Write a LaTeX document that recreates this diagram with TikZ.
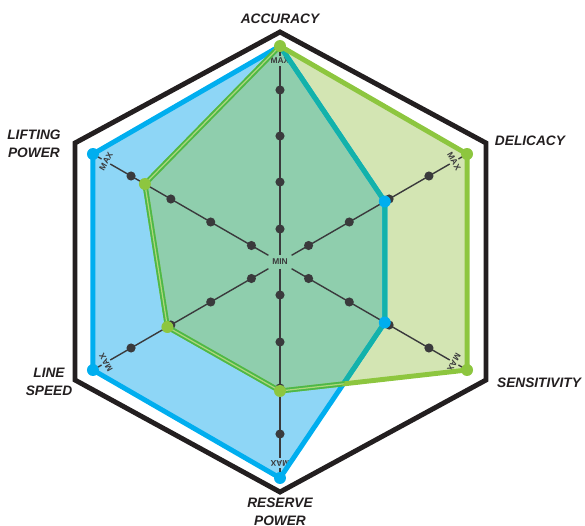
\documentclass[tikz,border=0pt]{standalone}
\usepackage{fontspec}
\setmainfont{Liberation Sans}
\definecolor{hexline}{HTML}{231F20}
\definecolor{bluefill}{HTML}{8ED6F6}
\definecolor{greenfill}{HTML}{D3E5B3}
\definecolor{overlapfill}{HTML}{8FCEAD}
\definecolor{blueline}{HTML}{00AEEF}
\definecolor{greenline}{HTML}{8DC63F}
\definecolor{tealline}{HTML}{13B2AA}
\definecolor{darkgreen}{HTML}{4DB848}
\definecolor{axisgray}{HTML}{3A3A3C}
\tikzset{
axislabel/.style={font=\bfseries\itshape\fontsize{7.8}{10.2}\selectfont, align=center, text=hexline, inner sep=0pt},
endlabel/.style={font=\bfseries\fontsize{4.8}{5}\selectfont, text=axisgray},
axisline/.style={axisgray, line width=0.8pt},
polyline/.style={line width=2.8pt, line join=round},
tickdot/.style={circle, fill=axisgray, inner sep=0pt, minimum size=5.2pt},
vertexdot/.style={circle, inner sep=0pt, minimum size=6.8pt}
}
\begin{document}
\begin{tikzpicture}[x=0.02cm,y=0.02cm]
\useasboundingbox (-280,-263) rectangle (305,262);
\foreach \a/\r [count=\i] in {90/216,30/216,-30/216,-90/129,-150/130,150/156}
{
\coordinate (g\i) at (\a:\r);
}
\foreach \a/\r [count=\i] in {90/216,30/121,-30/121,-90/216,-150/216,150/216}
{
\coordinate (b\i) at (\a:\r);
}
\fill[bluefill] (b1) -- (b2) -- (b3) -- (b4) -- (b5) -- (b6) -- cycle;
\fill[greenfill] (g1) -- (g2) -- (g3) -- (g4) -- (g5) -- (g6) -- cycle;
\begin{scope}
\clip (b1) -- (b2) -- (b3) -- (b4) -- (b5) -- (b6) -- cycle;
\fill[overlapfill] (g1) -- (g2) -- (g3) -- (g4) -- (g5) -- (g6) -- cycle;
\end{scope}
\draw[hexline, line width=2.8pt, line join=miter] (0,230) -- (206,119) -- (206,-118) -- (0,-230) -- (-205,-118) -- (-205,119) -- cycle;
\node[endlabel, inner sep=2pt] (min) at (0,0) {MIN};
\foreach \a in {90,30,-30,-90,-150,150}
{
\node[endlabel, inner sep=1pt, rotate=\a-90] (max\a) at (\a:201) {MAX};
\coordinate (top\a) at (\a:216);
\draw[axisline] (min) -- (max\a);
\draw[axisline] (max\a) -- (top\a);
\foreach \r in {33,80,126,172}
{
\node[tickdot] (dot\a-\r) at (\a:\r) {};
}
}
\draw[blueline, polyline] (b1) -- (b2) -- (b3) -- (b4) -- (b5) -- (b6) -- cycle;
\begin{scope}
\clip (g1) -- (g2) -- (g3) -- (g4) -- (g5) -- (g6) -- cycle;
\draw[tealline, polyline] (b1) -- (b2) -- (b3) -- (b4) -- (b5) -- (b6) -- cycle;
\end{scope}
\draw[greenline, polyline] (g1) -- (g2) -- (g3) -- (g4) -- (g5) -- (g6) -- cycle;
\begin{scope}
\clip (b1) -- (b2) -- (b3) -- (b4) -- (b5) -- (b6) -- cycle;
\draw[darkgreen, polyline] (g1) -- (g2) -- (g3) -- (g4) -- (g5) -- (g6) -- cycle;
\draw[greenline!70!white, line width=0.7pt, line join=round] (g1) -- (g2) -- (g3) -- (g4) -- (g5) -- (g6) -- cycle;
\end{scope}
\foreach \i in {2,...,6}
{
\node[vertexdot, fill=blueline] (bdot\i) at (b\i) {};
}
\foreach \i in {1,...,6}
{
\node[vertexdot, fill=greenline] (gdot\i) at (g\i) {};
}
\node[axislabel] (accuracy) at (0,243) {ACCURACY};
\node[axislabel] (delicacy) at (250,121) {DELICACY};
\node[axislabel] (sensitivity) at (259,-121) {SENSITIVITY};
\node[axislabel] (reserve) at (0,-250) {RESERVE\\POWER};
\node[axislabel] (linespeed) at (-231,-120) {LINE\\SPEED};
\node[axislabel] (lifting) at (-246,118) {LIFTING\\POWER};
\end{tikzpicture}
\end{document}
